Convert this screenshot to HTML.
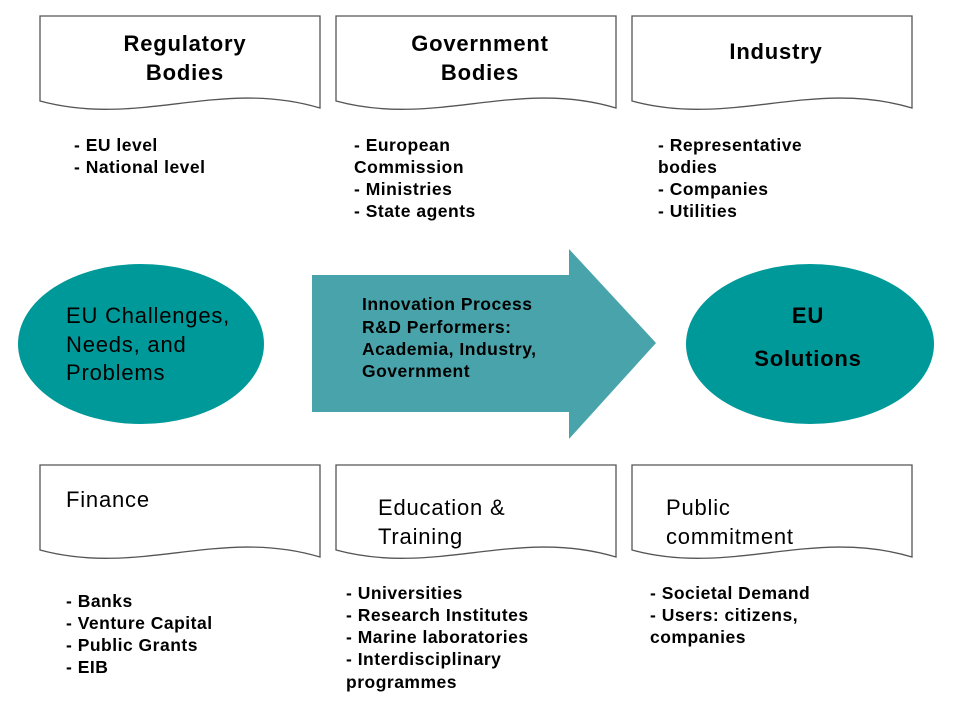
<!DOCTYPE html>
<html><head><meta charset="utf-8"><style>
html,body{margin:0;padding:0;background:#fff;}
svg{display:block;font-family:"Liberation Sans",Arial,sans-serif;}
.t{font-size:22px;font-weight:bold;letter-spacing:0.8px;}
.r{font-size:22px;letter-spacing:0.8px;}
.b{font-size:17.5px;font-weight:bold;letter-spacing:0.5px;}
</style></head><body>
<svg width="960" height="720" viewBox="0 0 960 720">
<defs>
<path id="doc" d="M0,0 H280 V92 C180,62 100,112 0,85 Z" fill="#fff" stroke="#555" stroke-width="1.3"/>
</defs>
<use href="#doc" x="40" y="16"/>
<use href="#doc" x="336" y="16"/>
<use href="#doc" x="632" y="16"/>
<use href="#doc" x="40" y="465"/>
<use href="#doc" x="336" y="465"/>
<use href="#doc" x="632" y="465"/>

<text class="t" x="185" y="51" text-anchor="middle">Regulatory</text>
<text class="t" x="185" y="80" text-anchor="middle">Bodies</text>
<text class="t" x="480" y="51" text-anchor="middle">Government</text>
<text class="t" x="480" y="80" text-anchor="middle">Bodies</text>
<text class="t" x="776" y="59" text-anchor="middle">Industry</text>

<text class="b" x="74" y="151">- EU level</text>
<text class="b" x="74" y="173">- National level</text>
<text class="b" x="354" y="151">- European</text>
<text class="b" x="354" y="173">Commission</text>
<text class="b" x="354" y="195">- Ministries</text>
<text class="b" x="354" y="217">- State agents</text>
<text class="b" x="658" y="151">- Representative</text>
<text class="b" x="658" y="173">bodies</text>
<text class="b" x="658" y="195">- Companies</text>
<text class="b" x="658" y="217">- Utilities</text>

<ellipse cx="141" cy="344" rx="123" ry="80" fill="#009999"/>
<text class="r" x="66" y="323">EU Challenges,</text>
<text class="r" x="66" y="352">Needs, and</text>
<text class="r" x="66" y="380">Problems</text>

<polygon points="312,275 569,275 569,249 656,343 569,439 569,412 312,412" fill="#48a4aa"/>
<text class="b" x="362" y="310">Innovation Process</text>
<text class="b" x="362" y="333">R&amp;D Performers:</text>
<text class="b" x="362" y="355">Academia, Industry,</text>
<text class="b" x="362" y="377">Government</text>

<ellipse cx="810" cy="344" rx="124" ry="80" fill="#009999"/>
<text class="t" x="808" y="323" text-anchor="middle">EU</text>
<text class="t" x="808" y="366" text-anchor="middle">Solutions</text>

<text class="r" x="66" y="507">Finance</text>
<text class="r" x="378" y="515">Education &amp;</text>
<text class="r" x="378" y="544">Training</text>
<text class="r" x="666" y="515">Public</text>
<text class="r" x="666" y="544">commitment</text>

<text class="b" x="66" y="607">- Banks</text>
<text class="b" x="66" y="629">- Venture Capital</text>
<text class="b" x="66" y="651">- Public Grants</text>
<text class="b" x="66" y="673">- EIB</text>
<text class="b" x="346" y="599">- Universities</text>
<text class="b" x="346" y="621">- Research Institutes</text>
<text class="b" x="346" y="643">- Marine laboratories</text>
<text class="b" x="346" y="665">- Interdisciplinary</text>
<text class="b" x="346" y="688">programmes</text>
<text class="b" x="650" y="599">- Societal Demand</text>
<text class="b" x="650" y="621">- Users: citizens,</text>
<text class="b" x="650" y="643">companies</text>
</svg>
</body></html>
